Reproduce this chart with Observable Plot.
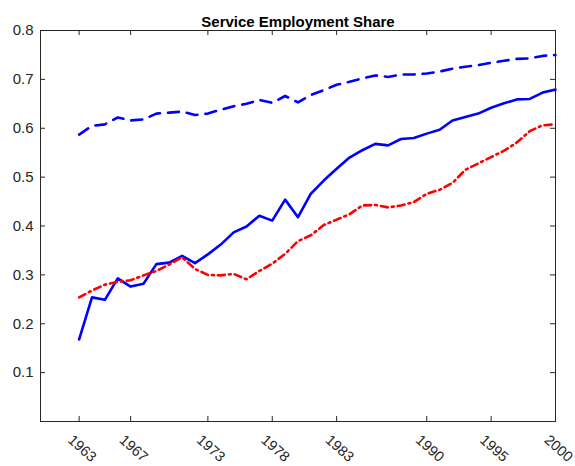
<!DOCTYPE html>
<html><head><meta charset="utf-8">
<script src="https://cdn.jsdelivr.net/npm/d3@7"></script>
<script src="https://cdn.jsdelivr.net/npm/@observablehq/plot@0.6"></script>
<style>body{margin:0;background:#fff;} svg{font-family:"Liberation Sans",Arial,Helvetica,sans-serif;}</style>
</head><body><div id="chart"></div>
<script>
const title = "Service Employment Share";
const years = [1963,1964,1965,1966,1967,1968,1969,1970,1971,1972,1973,1974,1975,1976,1977,1978,1979,1980,1981,1982,1983,1984,1985,1986,1987,1988,1989,1990,1991,1992,1993,1994,1995,1996,1997,1998,1999,2000];
const dashedBlue = [0.587,0.605,0.608,0.622,0.616,0.618,0.630,0.632,0.634,0.627,0.630,0.638,0.645,0.650,0.658,0.652,0.666,0.653,0.668,0.678,0.689,0.695,0.702,0.708,0.705,0.710,0.710,0.712,0.716,0.722,0.726,0.729,0.734,0.738,0.742,0.743,0.748,0.750];
const solidBlue = [0.168,0.254,0.249,0.293,0.276,0.282,0.322,0.325,0.339,0.324,0.342,0.362,0.387,0.399,0.421,0.411,0.454,0.418,0.466,0.493,0.517,0.540,0.555,0.568,0.565,0.578,0.580,0.589,0.597,0.616,0.623,0.630,0.642,0.651,0.659,0.660,0.673,0.679];
const dashDotRed = [0.254,0.268,0.280,0.286,0.289,0.299,0.308,0.321,0.336,0.312,0.300,0.299,0.302,0.291,0.308,0.323,0.343,0.369,0.381,0.402,0.413,0.424,0.442,0.443,0.438,0.442,0.449,0.466,0.474,0.488,0.515,0.528,0.541,0.554,0.571,0.594,0.606,0.608];
const xTicks = [1963,1967,1973,1978,1983,1990,1995,2000];
const yTicks = [0.1,0.2,0.3,0.4,0.5,0.6,0.7,0.8];

const rows = (vals) => years.map((y, i) => ({year: y, value: vals[i]}));
const ink = "#262626";

const chart = Plot.plot({
  width: 575, height: 466,
  marginTop: 30, marginRight: 20, marginBottom: 45, marginLeft: 40,
  style: {fontFamily: '"Liberation Sans",Arial,sans-serif', fontSize: "15px", background: "#fff", color: ink},
  x: {domain: [1960, 2000], axis: null},
  y: {domain: [0, 0.8], axis: null},
  marks: [
    Plot.line(rows(dashedBlue), {x: "year", y: "value", stroke: "#0000ff", strokeWidth: 2.6, strokeDasharray: "11,8"}),
    Plot.line(rows(solidBlue), {x: "year", y: "value", stroke: "#0000ff", strokeWidth: 2.6}),
    Plot.line(rows(dashDotRed), {x: "year", y: "value", stroke: "#ff0000", strokeWidth: 2.6, strokeDasharray: "7,4,2,4"}),
    Plot.tickX(xTicks, {x: d => d, insetTop: 386, stroke: ink}),
    Plot.tickX(xTicks, {x: d => d, insetBottom: 386, stroke: ink}),
    Plot.tickY(yTicks, {y: d => d, insetRight: 510, stroke: ink}),
    Plot.tickY(yTicks, {y: d => d, insetLeft: 510, stroke: ink}),
    Plot.frame({stroke: ink, strokeWidth: 1}),
    Plot.text(yTicks, {y: d => d, frameAnchor: "left", dx: -7, text: d => d.toFixed(1), textAnchor: "end", fill: ink, fontSize: 15}),
    Plot.text(xTicks, {x: d => d, frameAnchor: "bottom", dx: 3, dy: 27, rotate: 42, text: d => String(d), textAnchor: "middle", lineAnchor: "middle", fill: ink, fontSize: 14.5}),
    Plot.text([title], {frameAnchor: "top", dy: -14, text: d => d, fontWeight: "bold", fontSize: 15, fill: "#000"})
  ]
});
document.getElementById("chart").appendChild(chart);
</script>
</body></html>
